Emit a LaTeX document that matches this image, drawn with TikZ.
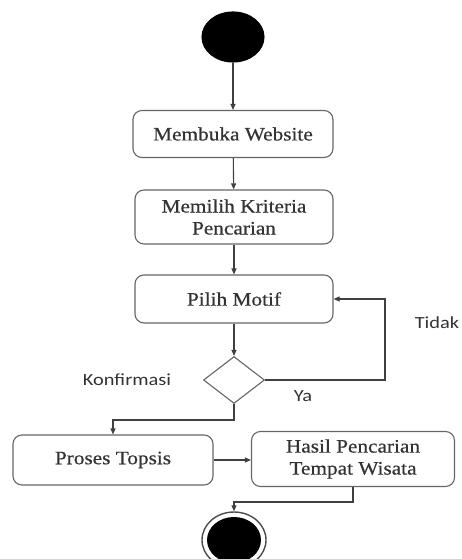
\documentclass[tikz,border=0pt]{standalone}
\usepackage{fontspec}
\setmainfont{Liberation Serif}[FakeStretch=1.12,FakeBold=0.5]
\newfontfamily\labelfont{Carlito}[FakeStretch=1.2]
\usetikzlibrary{shapes.geometric,arrows.meta}
\begin{document}
\begin{tikzpicture}[x=1pt,y=-1pt,
        line width=1.1pt,
        flow/.style={-{Triangle[length=6pt,width=5pt]}, draw=black!75},
        activity/.style={draw=black!60, rounded corners=9pt, align=center,
            text=black!80, font=\fontsize{19}{22}\selectfont, inner sep=0pt},
        guard/.style={text=black!80, font=\labelfont\fontsize{17}{20}\selectfont}]
    \useasboundingbox (0,0) rectangle (462,559);
    % states
    \node [ellipse, fill=black, draw=black, minimum width=62pt, minimum height=50pt] (start) at (233,37) {};
    \node [activity, minimum width=200pt, minimum height=47pt] (web) at (233,134) {Membuka Website};
    \node [activity, minimum width=198pt, minimum height=54pt] (kriteria) at (234,217) {Memilih Kriteria\\Pencarian};
    \node [activity, minimum width=198pt, minimum height=48pt] (motif) at (234,299) {Pilih Motif};
    \node [diamond, draw=black!60, minimum width=61pt, minimum height=47pt, inner sep=0pt] (konf) at (234,380) {};
    \node [activity, minimum width=200pt, minimum height=50pt] (topsis) at (113,460) {Proses Topsis};
    \node [activity, minimum width=203pt, minimum height=55pt] (hasil) at (353,459) {Hasil Pencarian\\Tempat Wisata};
    \node [ellipse, draw=black!70, fill=white, line width=1.4pt, minimum width=64pt, minimum height=56pt] (end) at (234,540) {};
    \node [ellipse, fill=black, minimum width=54pt, minimum height=46pt] (endin) at (end) {};
    % bends
    \coordinate (loop) at (385,380);
    \coordinate (turnA) at (234,420);
    \coordinate (turnB) at (353,502);
    % transitions
    \draw [flow] (start) -- (web);
    \draw [flow] (web) -- (kriteria);
    \draw [flow] (kriteria) -- (motif);
    \draw [flow] (motif) -- (konf);
    \draw [flow] (konf.east) -- (loop) |- (motif.east);
    \draw [flow] (konf.south) -- (turnA) -| (topsis.north);
    \draw [flow] (topsis.east) -- (topsis.east -| hasil.west);
    \draw [flow] (hasil.south) -- (turnB) -| (end.north);
    % guards
    \node [guard] (tidak) at (437,323) {Tidak};
    \node [guard] (konfirmasi) at (127,380) {Konfirmasi};
    \node [guard] (ya) at (303,396) {Ya};
\end{tikzpicture}
\end{document}
